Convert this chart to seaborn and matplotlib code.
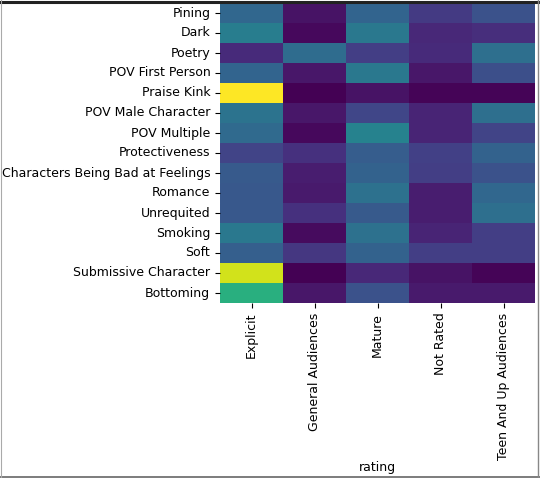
import numpy as np
import pandas as pd
import matplotlib
matplotlib.use("Agg")
import matplotlib.pyplot as plt
import seaborn as sns
from matplotlib.lines import Line2D

tags = ["Pining", "Dark", "Poetry", "POV First Person", "Praise Kink",
        "POV Male Character", "POV Multiple", "Protectiveness",
        "Characters Being Bad at Feelings", "Romance", "Unrequited",
        "Smoking", "Soft", "Submissive Character", "Bottoming"]
ratings = ["Explicit", "General Audiences", "Mature", "Not Rated", "Teen And Up Audiences"]

explicit = [0.33, 0.42, 0.12, 0.32, 1.00, 0.38, 0.34, 0.20, 0.28, 0.27, 0.27, 0.40, 0.30, 0.93, 0.63]
general  = [0.05, 0.02, 0.35, 0.06, 0.00, 0.06, 0.02, 0.14, 0.08, 0.07, 0.14, 0.03, 0.16, 0.00, 0.06]
mature   = [0.32, 0.40, 0.18, 0.40, 0.05, 0.21, 0.44, 0.29, 0.31, 0.37, 0.28, 0.37, 0.31, 0.11, 0.25]
notrated = [0.17, 0.11, 0.12, 0.06, 0.01, 0.10, 0.10, 0.19, 0.18, 0.08, 0.08, 0.10, 0.18, 0.05, 0.07]
teen     = [0.25, 0.13, 0.36, 0.24, 0.01, 0.36, 0.20, 0.31, 0.25, 0.33, 0.36, 0.18, 0.18, 0.01, 0.07]

df = pd.DataFrame({"Explicit": explicit, "General Audiences": general,
                   "Mature": mature, "Not Rated": notrated,
                   "Teen And Up Audiences": teen}, index=tags)
df.columns.name = "rating"

W, H = 540, 478
fig = plt.figure(figsize=(W / 100, H / 100), dpi=100)
ax = fig.add_axes([220 / W, 1 - 303 / H, 315 / W, 300 / H])
sns.heatmap(df, cmap="viridis", vmin=0, vmax=1, cbar=False, ax=ax)
ax.set_ylabel("")
ax.set_xlabel("rating", fontsize=9.0, labelpad=1)
ax.tick_params(axis="both", labelsize=9.0)
plt.setp(ax.get_xticklabels(), rotation=90)
plt.setp(ax.get_yticklabels(), rotation=0)

# outer frame of the crop
fig.add_artist(Line2D([0, 1], [1 - 1.5 / H, 1 - 1.5 / H], color="#222222", lw=2.2, transform=fig.transFigure))
fig.add_artist(Line2D([0, 1], [1.5 / H, 1.5 / H], color="#666666", lw=1.2, transform=fig.transFigure))
fig.add_artist(Line2D([1 - 2.5 / W, 1 - 2.5 / W], [0, 1], color="#888888", lw=1.0, transform=fig.transFigure))
fig.add_artist(Line2D([0.5 / W, 0.5 / W], [0, 1], color="#aaaaaa", lw=0.8, transform=fig.transFigure))

fig.savefig("out.png", dpi=100)
